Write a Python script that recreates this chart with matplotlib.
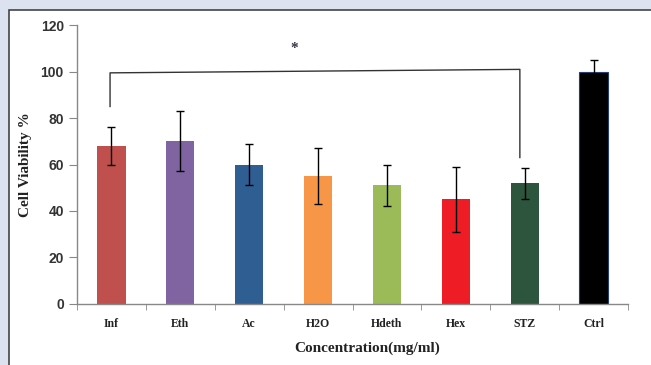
import numpy as np
import matplotlib.pyplot as plt
from matplotlib.patches import Rectangle

# data
groups = ['Inf', 'Eth', 'Ac', 'H2O', 'Hdeth', 'Hex', 'STZ', 'Ctrl']
viability = [68, 70, 60, 55, 51, 45, 52, 100]
errors = [8, 13, 8.8, 12, 9, 14, 6.7, 5]
colors = ['#c0504d', '#8064a2', '#2f5e93', '#f79646', '#9bbb59',
          '#ee1c25', '#2d553d', '#000000']
yticks = [0, 20, 40, 60, 80, 100, 120]

# significance bracket between Inf and STZ
bracket_y = 99.5
bracket_left_end = 85
bracket_right_end = 63
star_y = 110

fig = plt.figure(figsize=(6.51, 3.65), dpi=100)
fig.patch.set_facecolor('#dde2f0')

# white panel with dark border, behind the axes
panel = Rectangle((9 / 651, -0.05), 1.0, 1 - 10 / 365 + 0.05,
                  transform=fig.transFigure, facecolor='white',
                  edgecolor='#444444', linewidth=1.2, zorder=-10)
fig.add_artist(panel)

ax = fig.add_axes([77 / 651, 1 - 303.7 / 365, 551 / 651, 278.4 / 365])
ax.set_facecolor('none')

x = np.arange(len(groups))
edges = ['none'] * (len(groups) - 1) + ['#26406e']
ax.bar(x, viability, width=0.41, color=colors, edgecolor=edges, linewidth=0.8,
       zorder=2)
ax.errorbar(x, viability, yerr=errors, fmt='none', ecolor='black',
            elinewidth=1.0, capsize=3, capthick=1.0, zorder=3)

# bracket
i0, i1 = groups.index('Inf'), groups.index('STZ')
bl, br = i0 - 0.02, i1 - 0.07
ax.plot([bl, bl, br, br],
        [bracket_left_end, bracket_y, bracket_y + 1.5, bracket_right_end],
        color='#333333', linewidth=1.0, zorder=3)
ax.text(2.66, star_y, '*', ha='center', va='center',
        fontsize=11, fontweight='bold', color='#333344',
        family='Liberation Serif')

ax.set_xlim(-0.5, len(groups) - 0.5)
ax.set_ylim(0, 120)
ax.set_yticks(yticks)
ax.set_xticks(x)
ax.set_xticklabels(groups, family='Liberation Serif', fontweight='bold',
                   fontsize=8.5, color='#222222')
ax.set_xticks(np.arange(len(groups) + 1) - 0.5, minor=True)
ax.tick_params(axis='x', which='major', length=0, pad=10)
ax.tick_params(axis='x', which='minor', length=4, color='#888888',
               direction='out')
ax.tick_params(axis='y', length=5.5, color='#888888', labelsize=10,
               labelcolor='#333333', pad=4)
for lab in ax.get_yticklabels():
    lab.set_family('Liberation Sans')
    lab.set_fontweight('bold')

for s in ['top', 'right']:
    ax.spines[s].set_visible(False)
for s in ['left', 'bottom']:
    ax.spines[s].set_color('#888888')
    ax.spines[s].set_linewidth(1.0)

ax.set_xlabel('Concentration(mg/ml)', family='Liberation Serif',
              fontweight='bold', fontsize=11, color='#222222')
ax.xaxis.set_label_coords((367 - 77) / 551, -0.135)
ax.set_ylabel('Cell Viability %', family='Liberation Serif',
              fontweight='bold', fontsize=11, color='#222222')
ax.yaxis.set_label_coords(-(77 - 32) / 551, 0.5)

fig.savefig('out.png', dpi=100, facecolor=fig.get_facecolor())
